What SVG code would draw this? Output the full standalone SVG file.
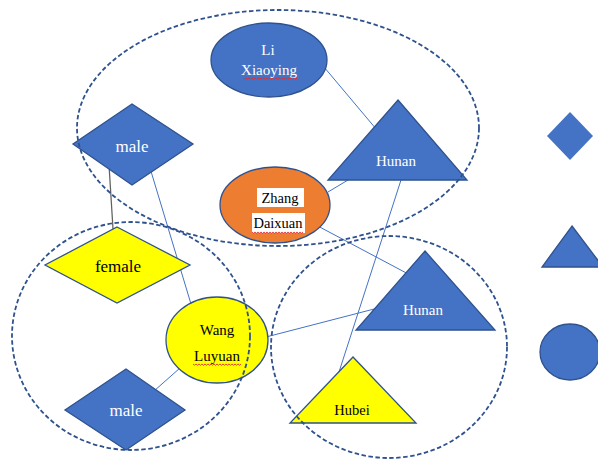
<svg xmlns="http://www.w3.org/2000/svg" width="598" height="460" viewBox="0 0 598 460">
<style>
.blue{fill:#4472C4;stroke:#2F528F;stroke-width:1.3}
.yel{fill:#FFFF00;stroke:#2F528F;stroke-width:1.3}
.org{fill:#ED7D31;stroke:#2F528F;stroke-width:1.3}
.grp{fill:none;stroke:#2F528F;stroke-width:1.8;stroke-dasharray:4.5 2.5}
.cn{stroke:#4472C4;stroke-width:1;fill:none}
.t{font-family:"Liberation Serif","Times New Roman",serif;font-size:15px;text-anchor:middle}
.big{font-size:17px}
.w{fill:#ffffff}
.k{fill:#000000}
.sq{fill:none;stroke:#E03030;stroke-width:0.9}
</style>
<rect width="598" height="460" fill="#ffffff"/>
<g id="connectors">
<line class="cn" x1="324" y1="67" x2="382" y2="136"/>
<line class="cn" x1="328" y1="192" x2="358" y2="174"/>
<line class="cn" x1="314" y1="224" x2="412" y2="276"/>
<line class="cn" x1="401" y1="180" x2="339" y2="372"/>
<line class="cn" x1="266" y1="337" x2="378" y2="308"/>
<line class="cn" x1="150" y1="168" x2="191" y2="304"/>
<line x1="109" y1="165" x2="113" y2="229" stroke="#606060" stroke-width="1.3"/>
<line class="cn" x1="180" y1="368" x2="154" y2="391"/>
</g>
<g id="li-xiaoying">
<ellipse class="blue" cx="269" cy="60" rx="58" ry="37"/>
<text class="t w" x="268" y="55">Li</text>
<text class="t w" x="269" y="75">Xiaoying</text>
<path class="sq" d="M243 78 l1.5 1.3 l1.5 -1.3 l1.5 1.3 l1.5 -1.3 l1.5 1.3 l1.5 -1.3 l1.5 1.3 l1.5 -1.3 l1.5 1.3 l1.5 -1.3 l1.5 1.3 l1.5 -1.3 l1.5 1.3 l1.5 -1.3 l1.5 1.3 l1.5 -1.3 l1.5 1.3 l1.5 -1.3 l1.5 1.3 l1.5 -1.3 l1.5 1.3 l1.5 -1.3 l1.5 1.3 l1.5 -1.3 l1.5 1.3 l1.5 -1.3 l1.5 1.3 l1.5 -1.3 l1.5 1.3 l1.5 -1.3 l1.5 1.3 l1.5 -1.3 l1.5 1.3 l1.5 -1.3 l1.5 1.3 l1.5 -1.3"/>
</g>
<g id="hunan-top">
<polygon class="blue" points="398,100 467,180 328,180"/>
<text class="t w" x="396" y="166">Hunan</text>
</g>
<g id="male-top">
<polygon class="blue" points="132,104 193,144 132,185 73,144"/>
<text class="t w big" x="132" y="152">male</text>
</g>
<g id="zhang-daixuan">
<ellipse class="org" cx="275" cy="205" rx="55" ry="38"/>
<rect x="257" y="188" width="47" height="19" fill="#ffffff"/>
<rect x="252" y="213" width="53" height="20" fill="#ffffff"/>
<text class="t k" x="280" y="203" style="font-size:14.5px">Zhang</text>
<text class="t k" x="278" y="228" style="font-size:14.5px">Daixuan</text>
<path class="sq" d="M252 232 l1.5 1.3 l1.5 -1.3 l1.5 1.3 l1.5 -1.3 l1.5 1.3 l1.5 -1.3 l1.5 1.3 l1.5 -1.3 l1.5 1.3 l1.5 -1.3 l1.5 1.3 l1.5 -1.3 l1.5 1.3 l1.5 -1.3 l1.5 1.3 l1.5 -1.3 l1.5 1.3 l1.5 -1.3 l1.5 1.3 l1.5 -1.3 l1.5 1.3 l1.5 -1.3 l1.5 1.3 l1.5 -1.3 l1.5 1.3 l1.5 -1.3 l1.5 1.3 l1.5 -1.3 l1.5 1.3 l1.5 -1.3 l1.5 1.3 l1.5 -1.3 l1.5 1.3 l1.5 -1.3"/>
</g>
<g id="female">
<polygon class="yel" points="117,227 190,265 117,303 45,265"/>
<text class="t k big" x="118" y="272">female</text>
</g>
<g id="wang-luyuan">
<ellipse class="yel" cx="217" cy="340" rx="51" ry="43"/>
<text class="t k" x="217" y="335">Wang</text>
<text class="t k" x="217" y="361">Luyuan</text>
<path class="sq" d="M193 364 l1.5 1.3 l1.5 -1.3 l1.5 1.3 l1.5 -1.3 l1.5 1.3 l1.5 -1.3 l1.5 1.3 l1.5 -1.3 l1.5 1.3 l1.5 -1.3 l1.5 1.3 l1.5 -1.3 l1.5 1.3 l1.5 -1.3 l1.5 1.3 l1.5 -1.3 l1.5 1.3 l1.5 -1.3 l1.5 1.3 l1.5 -1.3 l1.5 1.3 l1.5 -1.3 l1.5 1.3 l1.5 -1.3 l1.5 1.3 l1.5 -1.3 l1.5 1.3 l1.5 -1.3 l1.5 1.3 l1.5 -1.3 l1.5 1.3 l1.5 -1.3"/>
</g>
<g id="male-bottom">
<polygon class="blue" points="126,369 185,410 126,450 65,410"/>
<text class="t w big" x="126" y="416">male</text>
</g>
<g id="hunan-right">
<polygon class="blue" points="425,251 495,330 356,330"/>
<text class="t w" x="423" y="315">Hunan</text>
</g>
<g id="hubei">
<polygon class="yel" points="353,357 416,423 290,423"/>
<text class="t k" x="352" y="415" style="font-size:14.5px">Hubei</text>
</g>
<g id="clusters">
<ellipse class="grp" cx="278" cy="128" rx="201" ry="118"/>
<ellipse class="grp" cx="131" cy="336" rx="119" ry="114"/>
<ellipse class="grp" cx="389" cy="347" rx="118" ry="111"/>
</g>
<g id="legend">
<polygon id="legend-diamond" class="blue" points="570,112 593,136 570,160 547,136" style="stroke:none"/>
<polygon id="legend-triangle" class="blue" points="572,226 603,267 542,267"/>
<ellipse id="legend-circle" class="blue" cx="570" cy="352" rx="30" ry="28"/>
</g>
</svg>
